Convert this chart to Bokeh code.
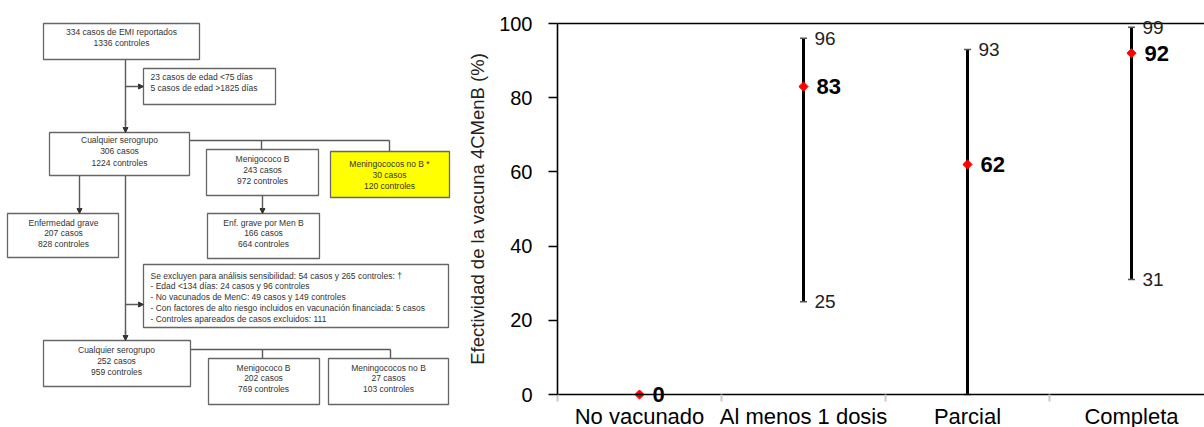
from bokeh.plotting import figure
from bokeh.layouts import row
from bokeh.models import (Range1d, LinearAxis, FixedTicker, ColumnDataSource, LabelSet,
                          Whisker, TeeHead, Arrow, NormalHead)
from bokeh.core.properties import value
from bokeh.embed import file_html
from bokeh.resources import INLINE

# ---------------- chart data ----------------
categories = ["No vacunado", "Al menos 1 dosis", "Parcial", "Completa"]
effectiveness = [0, 83, 62, 92]
ci_upper = [None, 96, 93, 99]
ci_lower = [None, 25, 0, 31]
ci_lower_labels = ["", "25", "", "31"]
y_ticks = [0, 20, 40, 60, 80, 100]

# ---------------- flowchart texts ----------------
fc_top = ["334 casos de EMI reportados", "1336 controles"]
fc_excl1 = ["23 casos de edad <75 días", "5 casos de edad >1825 días"]
fc_any1 = ["Cualquier serogrupo", "306 casos", "1224 controles"]
fc_menb1 = ["Menigococo B", "243 casos", "972 controles"]
fc_nonb1 = ["Meningococos no B *", "30 casos", "120 controles"]
fc_grave = ["Enfermedad grave", "207 casos", "828 controles"]
fc_grave_b = ["Enf. grave por Men B", "166 casos", "664 controles"]
fc_excl2 = ["Se excluyen para análisis sensibilidad: 54 casos y 265 controles: †",
            "- Edad <134 días: 24 casos y 96 controles",
            "- No vacunados de MenC: 49 casos y 149 controles",
            "- Con factores de alto riesgo incluidos  en vacunación financiada: 5 casos",
            "- Controles apareados de casos excluidos: 111"]
fc_any2 = ["Cualquier serogrupo", "252 casos", "959 controles"]
fc_menb2 = ["Menigococo B", "202 casos", "769 controles"]
fc_nonb2 = ["Meningococos no B", "27 casos", "103 controles"]

FONT = "Liberation Sans"
W_FC, W_CH, H = 460, 744, 427

# ---------------- flowchart figure (pixel-like coordinates) ----------------
fc = figure(width=W_FC, height=H, x_range=Range1d(0, W_FC), y_range=Range1d(H, 0),
            toolbar_location=None, output_backend="svg", min_border=0,
            x_axis_type=None, y_axis_type=None)
fc.grid.visible = False
fc.outline_line_color = None

# (left, right, top, bottom, fill, lines, align, text_x, first_line_y, line_step)
boxes = [
    (43, 199, 23, 59, "white", fc_top, "center", 121, 31, 11),
    (143, 275, 68, 104, "white", fc_excl1, "left", 150, 76, 11),
    (49, 189, 132, 175, "white", fc_any1, "center", 119, 139, 11.5),
    (206, 318, 149, 195, "white", fc_menb1, "center", 262, 158, 11),
    (330, 449, 151, 197, "#FFFF00", fc_nonb1, "center", 389, 163, 11),
    (7, 118, 213, 257, "white", fc_grave, "center", 63, 222, 10.5),
    (207, 319, 213, 258, "white", fc_grave_b, "center", 263, 222, 10.5),
    (143, 448, 264, 327, "white", fc_excl2, "left", 150, 275, 10.75),
    (43, 190, 340, 386, "white", fc_any2, "center", 116, 349, 11),
    (208, 319, 358, 404, "white", fc_menb2, "center", 263, 367, 10.5),
    (328, 448, 358, 404, "white", fc_nonb2, "center", 388, 367, 10.5),
]

LINE_C = "#5a5a5a"
seg = dict(x0=[125, 189, 261, 389, 125, 190, 262, 390],
           y0=[59, 140, 140, 140, 175, 349, 349, 349],
           x1=[125, 389, 261, 389, 125, 390, 262, 390],
           y1=[125, 140, 149, 151, 334, 349, 358, 358])
fc.segment(x0="x0", y0="y0", x1="x1", y1="y1", source=ColumnDataSource(seg),
           line_color=LINE_C, line_width=1.4)

arrows = [(125, 120, 125, 132), (125, 86, 143, 86), (79, 175, 79, 213),
          (262, 195, 262, 213), (125, 304, 143, 304), (125, 330, 125, 340)]
for xs, ys, xe, ye in arrows:
    fc.add_layout(Arrow(end=NormalHead(size=5, fill_color="#333", line_color="#333", line_width=1),
                        x_start=xs, y_start=ys, x_end=xe, y_end=ye,
                        line_color=LINE_C, line_width=1.4))

for (l, r, t, b, fill, lines, align, tx, ty, step) in boxes:
    fc.quad(left=l, right=r, top=t, bottom=b, fill_color=fill,
            line_color="#666666", line_width=1.3)
    fc.text(x=[tx] * len(lines), y=[ty + i * step for i in range(len(lines))], text=lines,
            text_align=align, text_baseline="middle", text_font=value(FONT),
            text_font_size="8.5px", text_color="#333333")

# ---------------- effectiveness chart ----------------
x_pos = [i + 1 for i in range(len(categories))]
x_bounds = [i + 0.5 for i in range(len(categories) + 1)]

# frame covers the whole figure; axes are drawn at fixed locations inside it
PX_PER_CAT = 164.0
AXIS_LEFT_PX = 97      # y axis position from figure left
Y0_PX, Y100_PX = 394, 23
px_per_unit = (Y0_PX - Y100_PX) / 100.0
x_start = 0.5 - AXIS_LEFT_PX / PX_PER_CAT
x_end = 0.5 + (W_CH - AXIS_LEFT_PX) / PX_PER_CAT
y_start = 0 - (H - Y0_PX) / px_per_unit
y_end = 100 + Y100_PX / px_per_unit

p = figure(width=W_CH, height=H, x_range=Range1d(x_start, x_end),
           y_range=Range1d(y_start, y_end), toolbar_location=None, output_backend="svg",
           min_border=0, x_axis_type=None, y_axis_type=None)
p.grid.visible = False
p.outline_line_color = None
p.background_fill_color = "white"

xa = LinearAxis(fixed_location=0, bounds=(0.5, x_end),
                ticker=FixedTicker(ticks=x_pos, minor_ticks=x_bounds),
                major_label_overrides={xp: c for xp, c in zip(x_pos, categories)},
                major_tick_out=0, major_tick_in=0,
                minor_tick_out=7, minor_tick_in=0,
                minor_tick_line_color="#c8c8c8", minor_tick_line_width=2,
                axis_line_color="black", axis_line_width=1.6,
                major_label_text_font=FONT, major_label_text_font_size="22px",
                major_label_text_color="black", major_label_standoff=2)
p.add_layout(xa, "below")

ya = LinearAxis(fixed_location=0.5, bounds=(0, 100),
                ticker=FixedTicker(ticks=y_ticks, minor_ticks=[]),
                major_tick_out=9, major_tick_in=0, major_tick_line_width=1.6,
                major_tick_line_color="black", axis_line_color="black", axis_line_width=1.6,
                major_label_text_font=FONT, major_label_text_font_size="20px",
                major_label_text_color="black", major_label_standoff=16,
                axis_label="Efectividad de la vacuna 4CMenB (%)",
                axis_label_text_font=FONT, axis_label_text_font_size="18.5px",
                axis_label_text_font_style="normal", axis_label_text_color="#222222",
                axis_label_standoff=8)
p.add_layout(ya, "left")

top = LinearAxis(fixed_location=100, bounds=(0.5, x_end),
                 ticker=FixedTicker(ticks=[], minor_ticks=[]),
                 major_label_text_font_size="0px",
                 major_tick_out=0, major_tick_in=0, minor_tick_out=0, minor_tick_in=0,
                 axis_line_color="black", axis_line_width=1.6)
p.add_layout(top, "above")

# confidence intervals
ci_rows = [i for i in range(len(categories)) if ci_upper[i] is not None]
ci_src = ColumnDataSource(dict(
    x=[x_pos[i] for i in ci_rows],
    upper=[ci_upper[i] for i in ci_rows],
    lower=[ci_lower[i] for i in ci_rows],
    up_lab=[str(ci_upper[i]) for i in ci_rows],
    lo_lab=[ci_lower_labels[i] for i in ci_rows],
))
p.add_layout(Whisker(source=ci_src, base="x", upper="upper", lower="lower",
                     dimension="height", line_color="black", line_width=3,
                     upper_head=TeeHead(size=7, line_color="#555", line_width=1.5),
                     lower_head=TeeHead(size=7, line_color="#555", line_width=1.5)))

pt_src = ColumnDataSource(dict(x=x_pos, y=effectiveness,
                               lab=[str(v) for v in effectiveness]))
p.scatter(x="x", y="y", source=pt_src, marker="square", angle=0.7854, size=6.5,
          fill_color="#FF0000", line_color="#FF0000")

p.add_layout(LabelSet(x="x", y="y", text="lab", source=pt_src, x_offset=13,
                      text_baseline="middle", text_font=value(FONT),
                      text_font_size="22px", text_font_style="bold", text_color="black"))
p.add_layout(LabelSet(x="x", y="upper", text="up_lab", source=ci_src, x_offset=11,
                      text_baseline="middle", text_font=value(FONT),
                      text_font_size="19px", text_color="#222222"))
p.add_layout(LabelSet(x="x", y="lower", text="lo_lab", source=ci_src, x_offset=11,
                      text_baseline="middle", text_font=value(FONT),
                      text_font_size="19px", text_color="#222222"))

layout = row(fc, p)
open("out.html", "w").write(file_html(layout, INLINE))
